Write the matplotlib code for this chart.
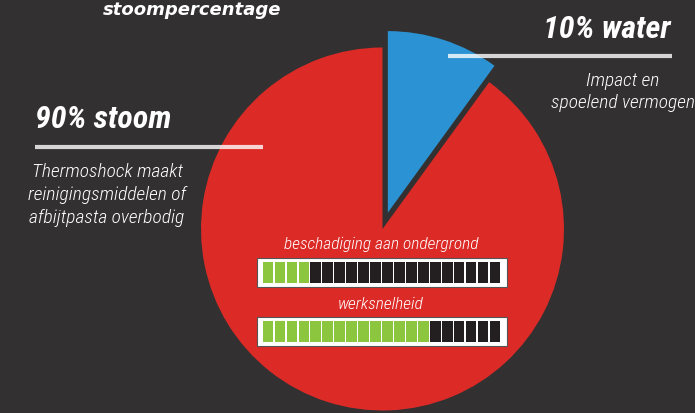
import matplotlib
matplotlib.use("Agg")
import matplotlib.pyplot as plt
from matplotlib import font_manager
from matplotlib.patches import Rectangle

# pie data
shares = [10, 90]
share_colors = ['#2b93d3', '#dc2b27']
explode_frac = [0.095, 0]

# annotations
water_title = '10% water'
water_lines = ['Impact en', 'spoelend vermogen']
steam_title = '90% stoom'
steam_lines = ['Thermoshock maakt', 'reinigingsmiddelen of', 'afbijtpasta overbodig']
chart_title = 'stoompercentage'

# segment meters
meter_labels = ['beschadiging aan ondergrond', 'werksnelheid']
meter_filled = [4, 14]
meter_total = 20

BG = '#323031'
H = 413
R = 181.5

names = {f.name for f in font_manager.fontManager.ttflist}
narrow = next((n for n in ['Liberation Sans Narrow', 'Roboto Condensed', 'Open Sans Condensed',
                           'Roboto'] if n in names), 'DejaVu Sans')

fig = plt.figure(figsize=(6.95, 4.13), dpi=100, facecolor=BG)
ax = fig.add_axes([0, 0, 1, 1])
ax.set_facecolor(BG)

def y(py):
    return H - py

# explode is in data units here, so scale by radius
ax.pie(shares, colors=share_colors, explode=[e * R for e in explode_frac], startangle=90,
       counterclock=False, center=(382.5, y(229)), radius=R, wedgeprops=dict(linewidth=0))
ax.set_xlim(0, 695)
ax.set_ylim(0, H)
ax.set_aspect('equal')
ax.axis('off')

# white rules
ax.plot([448, 672], [y(56), y(56)], color='white', alpha=0.8, lw=3, solid_capstyle='butt')
ax.plot([35, 263], [y(147), y(147)], color='white', alpha=0.8, lw=3, solid_capstyle='butt')

ax.text(607, y(38), water_title, color='white', fontsize=23, fontweight='bold', style='italic',
        family=narrow, ha='center', va='baseline')
for i, line in enumerate(water_lines):
    ax.text(623, y(86 + 22 * i), line, color='white', fontsize=14, style='italic',
            fontweight='light', family=narrow, ha='center', va='baseline')

ax.text(35, y(128), steam_title, color='white', fontsize=23, fontweight='bold', style='italic',
        family=narrow, ha='left', va='baseline')
for i, line in enumerate(steam_lines):
    ax.text(107, y(177 + 23 * i), line, color='white', fontsize=14, style='italic',
            fontweight='light', family=narrow, ha='center', va='baseline')

ax.text(192, y(15), chart_title, color='white', fontsize=13, fontweight='bold', style='italic',
        family='DejaVu Sans', ha='center', va='baseline')

# meters
frame_top = [258, 317]
label_base = [249, 309]
seg_w = (501 - 262) / meter_total
for k in range(len(meter_labels)):
    ax.text(381, y(label_base[k]), meter_labels[k], color='white', fontsize=12.5, style='italic',
            fontweight='light', family=narrow, ha='center', va='baseline')
    ax.add_patch(Rectangle((257, y(frame_top[k] + 29)), 250, 29, facecolor='white',
                           edgecolor='#555555', lw=0.8))
    xs = [262 + seg_w * (i + 0.5) for i in range(meter_total)]
    cols = ['#8cc63f' if i < meter_filled[k] else '#231f20' for i in range(meter_total)]
    ax.bar(xs, 21, width=seg_w - 1.3, bottom=y(frame_top[k] + 25), color=cols, linewidth=0)

fig.savefig('out.png', dpi=100, facecolor=BG)
